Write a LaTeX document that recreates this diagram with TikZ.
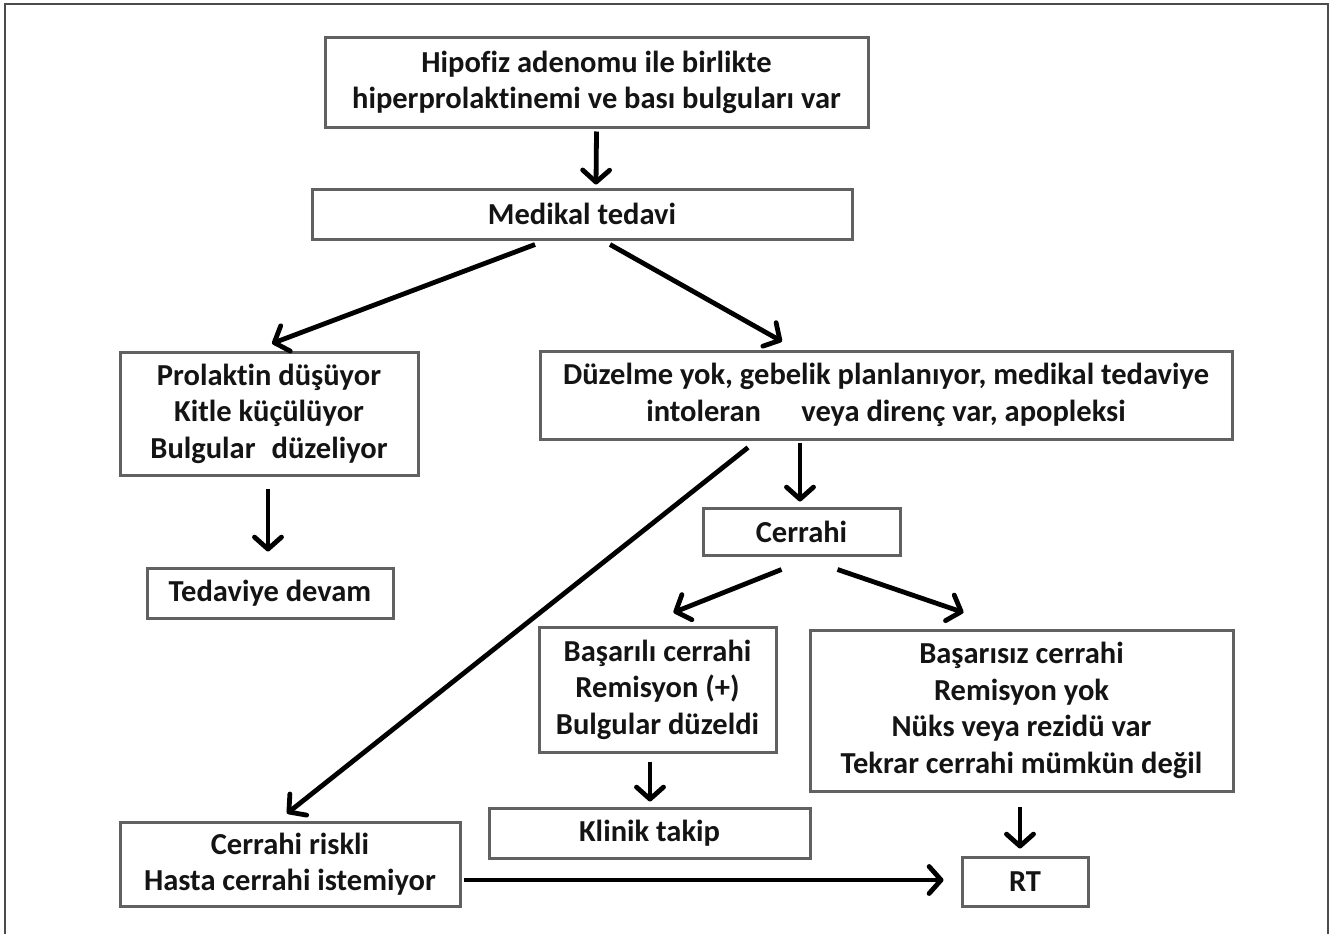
\documentclass[tikz,border=0pt]{standalone}
\usepackage{fontspec}
\setmainfont{Carlito}[Ligatures=NoCommon]
\usetikzlibrary{arrows.meta,calc}
\begin{document}
\begin{tikzpicture}[x=1pt,y=-1pt,
  box/.style={draw=black!62,line width=3pt,inner sep=0pt,align=center,
    font=\bfseries\fontsize{30.5}{36.5}\selectfont,text=black!92},
  arr/.style={line width=4.8pt,-{Straight Barb[length=12pt,width=27pt,round]}},
  frame/.style={draw=black!70,line width=1.4pt}]
\useasboundingbox (0,0) rectangle (1330,934);
\draw[frame] (5,934) -- (5,4) -- (1328,4) -- (1328,934);

\node[box,minimum width=543pt,minimum height=89pt] (top) at (596.5,82.5)
  {Hipofiz adenomu ile birlikte\\hiperprolaktinemi ve bası bulguları var};
\node[box,minimum width=540pt,minimum height=50pt] (med) at (582,214) {Medikal tedavi};
\node[box,minimum width=298pt,minimum height=123pt] (prol) at (269,413.5)
  {Prolaktin düşüyor\\Kitle küçülüyor\\Bulgular\hspace{0.3em} düzeliyor};
\node[box,minimum width=692pt,minimum height=88pt] (duz) at (886,395)
  {Düzelme yok, gebelik planlanıyor, medikal tedaviye\\intoleran\hspace{1.1em} veya direnç var, apopleksi};
\node[box,minimum width=246pt,minimum height=50pt] (ted) at (270,593) {Tedaviye devam};
\node[box,minimum width=197pt,minimum height=47pt] (cer) at (801.5,531.5) {Cerrahi};
\node[box,minimum width=237pt,minimum height=125pt] (bas) at (657.5,689.5)
  {Başarılı cerrahi\\Remisyon (+)\\Bulgular düzeldi};
\node[box,minimum width=423pt,minimum height=161pt] (basiz) at (1021.5,710.5)
  {Başarısız cerrahi\\Remisyon yok\\Nüks veya rezidü var\\Tekrar cerrahi mümkün değil};
\node[box,minimum width=321pt,minimum height=50pt] (kli) at (649.5,833) {Klinik takip};
\node[box,minimum width=340pt,minimum height=84pt] (risk) at (290,864)
  {Cerrahi riskli\\Hasta cerrahi istemiyor};
\node[box,minimum width=126pt,minimum height=49pt] (rt) at (1025,881.5) {RT};

\draw[arr] ($(top.south)+(0,3)$) -- ($(med.north)+(14,-3)$);
\draw[arr] ($(med.south)+(-47,4)$) -- ($(prol.north)+(3,-7)$);
\draw[arr] ($(med.south)+(28,4)$) -- ($(duz.north)+(-104,-8)$);
\draw[arr] ($(duz.south)+(-86,2)$) -- ($(cer.north)+(-1.5,-5)$);
\draw[arr] ($(prol.south)+(-1,12)$) -- ($(ted.north)+(-2,-15)$);
\draw[arr] ($(duz.south)+(-138,7)$) -- ($(risk.north)+(-3,-7)$);
\draw[arr] ($(cer.south)+(-20,13)$) -- ($(bas.north)+(16,-13)$);
\draw[arr] ($(cer.south)+(36,13)$) -- ($(basiz.north)+(-58,-16)$);
\draw[arr] ($(bas.south)+(-7.5,8)$) -- ($(kli.north)+(0.5,-5)$);
\draw[arr] ($(basiz.south)+(-1.5,14)$) -- ($(rt.north)+(-5,-7)$);
\draw[arr] ($(risk.east)+(2,16)$) -- ($(rt.west)+(-17,-1.5)$);
\end{tikzpicture}
\end{document}
